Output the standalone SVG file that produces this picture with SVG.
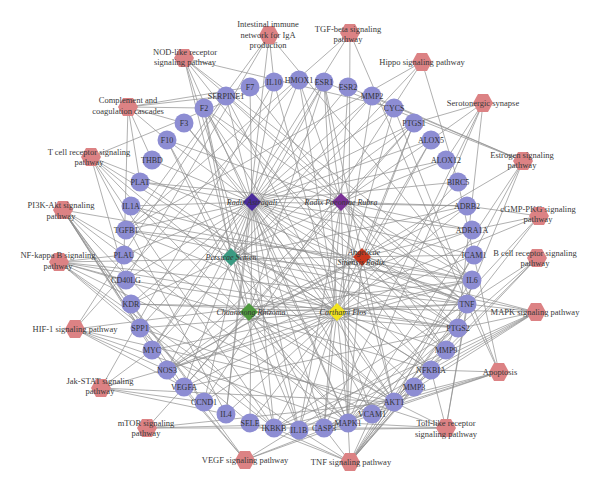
<svg xmlns="http://www.w3.org/2000/svg" width="600" height="492" viewBox="0 0 600 492">
<style>
.e path{stroke:#8e8e8e;stroke-width:0.7;fill:none}
.gene circle{fill:#8d8dd3}
.gene text{font-family:"Liberation Serif",serif;font-size:8px;fill:#333;text-anchor:middle}
.pw use{fill:#dc8284}
.pw text{font-family:"Liberation Serif",serif;font-size:8.5px;fill:#3a3a3a;text-anchor:middle}
.herb text{font-family:"Liberation Serif",serif;font-style:italic;font-size:8px;fill:#333;text-anchor:middle}
</style>
<defs>
<polygon id="hex" points="-10,0 -5,-9 5,-9 10,0 5,9 -5,9"/>
<polygon id="dia" points="0,-9 9,0 0,9 -9,0"/>
</defs>
<rect width="600" height="492" fill="#fff"/>
<g id="connectors" class="e">
<path d="M252 202L299 80"/><path d="M252 202L324 82"/><path d="M252 202L348 87"/><path d="M252 202L372 96"/><path d="M252 202L394 108"/><path d="M252 202L414 123"/><path d="M252 202L431 140"/><path d="M252 202L446 160"/><path d="M252 202L458 182"/><path d="M252 202L467 206"/><path d="M252 202L472 230"/><path d="M252 202L474 255"/><path d="M252 202L472 280"/><path d="M252 202L467 304"/><path d="M252 202L458 328"/><path d="M252 202L446 350"/><path d="M252 202L431 370"/><path d="M252 202L394 402"/><path d="M252 202L372 414"/><path d="M252 202L348 423"/><path d="M252 202L324 428"/><path d="M252 202L299 430"/><path d="M252 202L274 428"/><path d="M252 202L250 423"/><path d="M252 202L226 414"/><path d="M252 202L204 402"/><path d="M252 202L184 387"/><path d="M252 202L167 370"/><path d="M252 202L152 350"/><path d="M252 202L140 328"/><path d="M252 202L131 304"/><path d="M252 202L126 280"/><path d="M252 202L124 255"/><path d="M252 202L126 230"/><path d="M252 202L131 206"/><path d="M252 202L140 182"/><path d="M252 202L152 160"/><path d="M252 202L167 140"/><path d="M252 202L184 123"/><path d="M252 202L204 108"/><path d="M252 202L226 96"/><path d="M252 202L250 87"/><path d="M252 202L274 82"/>
<path d="M337 312L299 80"/><path d="M337 312L324 82"/><path d="M337 312L372 96"/><path d="M337 312L394 108"/><path d="M337 312L414 123"/><path d="M337 312L431 140"/><path d="M337 312L458 182"/><path d="M337 312L467 206"/><path d="M337 312L474 255"/><path d="M337 312L472 280"/><path d="M337 312L467 304"/><path d="M337 312L458 328"/><path d="M337 312L446 350"/><path d="M337 312L431 370"/><path d="M337 312L414 387"/><path d="M337 312L394 402"/><path d="M337 312L372 414"/><path d="M337 312L348 423"/><path d="M337 312L324 428"/><path d="M337 312L299 430"/><path d="M337 312L274 428"/><path d="M337 312L250 423"/><path d="M337 312L226 414"/><path d="M337 312L204 402"/><path d="M337 312L184 387"/><path d="M337 312L167 370"/><path d="M337 312L152 350"/><path d="M337 312L140 328"/><path d="M337 312L131 304"/><path d="M337 312L126 280"/><path d="M337 312L126 230"/><path d="M337 312L131 206"/><path d="M337 312L140 182"/><path d="M337 312L184 123"/><path d="M337 312L204 108"/><path d="M337 312L226 96"/><path d="M337 312L274 82"/>
<path d="M341 202L299 80"/><path d="M341 202L324 82"/><path d="M341 202L348 87"/><path d="M341 202L414 123"/><path d="M341 202L431 140"/><path d="M341 202L446 160"/><path d="M341 202L467 206"/><path d="M341 202L472 230"/><path d="M341 202L472 280"/><path d="M341 202L467 304"/><path d="M341 202L458 328"/><path d="M341 202L446 350"/><path d="M341 202L394 402"/><path d="M341 202L348 423"/><path d="M341 202L324 428"/><path d="M341 202L299 430"/><path d="M341 202L184 387"/><path d="M341 202L167 370"/><path d="M341 202L131 304"/><path d="M341 202L204 108"/><path d="M341 202L167 140"/><path d="M341 202L250 87"/><path d="M341 202L226 96"/><path d="M341 202L140 182"/>
<path d="M362 257L324 82"/><path d="M362 257L414 123"/><path d="M362 257L458 328"/><path d="M362 257L431 140"/><path d="M362 257L472 230"/><path d="M362 257L472 280"/><path d="M362 257L467 304"/><path d="M362 257L394 402"/><path d="M362 257L348 423"/><path d="M362 257L167 370"/><path d="M362 257L204 108"/><path d="M362 257L126 230"/><path d="M362 257L446 350"/>
<path d="M231 257L414 123"/><path d="M231 257L458 328"/><path d="M231 257L324 82"/><path d="M231 257L467 206"/><path d="M231 257L472 280"/><path d="M231 257L467 304"/><path d="M231 257L324 428"/><path d="M231 257L394 402"/><path d="M231 257L204 108"/><path d="M231 257L167 140"/><path d="M231 257L372 96"/>
<path d="M249 312L414 123"/><path d="M249 312L458 328"/><path d="M249 312L467 206"/><path d="M249 312L472 230"/><path d="M249 312L324 82"/><path d="M249 312L394 402"/><path d="M249 312L348 423"/><path d="M249 312L299 430"/><path d="M249 312L467 304"/><path d="M249 312L204 108"/><path d="M249 312L167 140"/><path d="M249 312L167 370"/><path d="M249 312L184 387"/>
<path d="M269 35L274 82"/><path d="M269 35L226 414"/><path d="M269 35L126 280"/><path d="M269 35L126 230"/><path d="M269 35L472 280"/>
<path d="M350 33L126 230"/><path d="M350 33L152 350"/><path d="M350 33L467 304"/><path d="M350 33L348 423"/>
<path d="M422 62L126 230"/><path d="M422 62L204 402"/><path d="M422 62L152 350"/><path d="M422 62L458 182"/>
<path d="M483 103L414 123"/><path d="M483 103L458 328"/><path d="M483 103L431 140"/><path d="M483 103L446 160"/><path d="M483 103L348 423"/><path d="M483 103L324 428"/>
<path d="M184 58L299 430"/><path d="M184 58L472 280"/><path d="M184 58L467 304"/><path d="M184 58L431 370"/><path d="M184 58L274 428"/><path d="M184 58L348 423"/><path d="M184 58L394 108"/>
<path d="M128 107L204 108"/><path d="M128 107L184 123"/><path d="M128 107L250 87"/><path d="M128 107L167 140"/><path d="M128 107L226 96"/><path d="M128 107L140 182"/><path d="M128 107L124 255"/><path d="M128 107L152 160"/>
<path d="M91 157L274 82"/><path d="M91 157L226 414"/><path d="M91 157L467 304"/><path d="M91 157L126 280"/><path d="M91 157L394 402"/><path d="M91 157L274 428"/><path d="M91 157L431 370"/><path d="M91 157L348 423"/>
<path d="M63 210L394 402"/><path d="M63 210L472 280"/><path d="M63 210L184 387"/><path d="M63 210L131 304"/><path d="M63 210L204 402"/><path d="M63 210L152 350"/><path d="M63 210L140 328"/><path d="M63 210L274 428"/><path d="M63 210L348 423"/><path d="M63 210L167 370"/>
<path d="M59 262L467 304"/><path d="M59 262L299 430"/><path d="M59 262L274 428"/><path d="M59 262L431 370"/><path d="M59 262L372 414"/><path d="M59 262L474 255"/><path d="M59 262L250 423"/><path d="M59 262L458 328"/><path d="M59 262L126 280"/><path d="M59 262L124 255"/>
<path d="M75 329L184 387"/><path d="M75 329L299 80"/><path d="M75 329L167 370"/><path d="M75 329L226 96"/><path d="M75 329L394 402"/><path d="M75 329L348 423"/><path d="M75 329L472 280"/>
<path d="M101 388L274 82"/><path d="M101 388L226 414"/><path d="M101 388L472 280"/><path d="M101 388L204 402"/><path d="M101 388L152 350"/><path d="M101 388L394 402"/>
<path d="M147 428L394 402"/><path d="M147 428L184 387"/><path d="M147 428L274 428"/><path d="M147 428L348 423"/>
<path d="M245 460L184 387"/><path d="M245 460L131 304"/><path d="M245 460L167 370"/><path d="M245 460L458 328"/><path d="M245 460L348 423"/><path d="M245 460L394 402"/>
<path d="M350 462L467 304"/><path d="M350 462L472 280"/><path d="M350 462L299 430"/><path d="M350 462L458 328"/><path d="M350 462L414 387"/><path d="M350 462L446 350"/><path d="M350 462L372 414"/><path d="M350 462L474 255"/><path d="M350 462L250 423"/><path d="M350 462L431 370"/><path d="M350 462L274 428"/><path d="M350 462L394 402"/><path d="M350 462L348 423"/><path d="M350 462L324 428"/>
<path d="M446 428L467 304"/><path d="M446 428L472 280"/><path d="M446 428L299 430"/><path d="M446 428L431 370"/><path d="M446 428L274 428"/><path d="M446 428L348 423"/><path d="M446 428L394 402"/><path d="M446 428L140 328"/>
<path d="M499 372L324 428"/><path d="M499 372L394 108"/><path d="M499 372L458 182"/><path d="M499 372L394 402"/><path d="M499 372L467 304"/><path d="M499 372L431 370"/><path d="M499 372L274 428"/><path d="M499 372L348 423"/>
<path d="M536 312L467 304"/><path d="M536 312L131 206"/><path d="M536 312L299 430"/><path d="M536 312L126 230"/><path d="M536 312L348 423"/><path d="M536 312L394 402"/><path d="M536 312L184 387"/><path d="M536 312L131 304"/><path d="M536 312L324 428"/><path d="M536 312L274 428"/>
<path d="M537 258L274 428"/><path d="M537 258L431 370"/><path d="M537 258L394 402"/><path d="M537 258L348 423"/>
<path d="M539 216L467 206"/><path d="M539 216L472 230"/><path d="M539 216L167 370"/><path d="M539 216L348 423"/><path d="M539 216L394 402"/>
<path d="M523 161L324 82"/><path d="M523 161L348 87"/><path d="M523 161L372 96"/><path d="M523 161L446 350"/><path d="M523 161L394 402"/><path d="M523 161L348 423"/><path d="M523 161L167 370"/>
</g>
<g id="pathways">
<g id="p-iga" class="pw"><use href="#hex" transform="translate(269,35)"/><text x="268" y="27">Intestinal immune</text><text x="268" y="38">network for IgA</text><text x="268" y="48">production</text></g>
<g id="p-tgfb" class="pw"><use href="#hex" transform="translate(350,33)"/><text x="348" y="32">TGF-beta signaling</text><text x="348" y="42">pathway</text></g>
<g id="p-hippo" class="pw"><use href="#hex" transform="translate(422,62)"/><text x="422" y="65">Hippo signaling pathway</text></g>
<g id="p-sero" class="pw"><use href="#hex" transform="translate(483,103)"/><text x="483" y="106">Serotonergic synapse</text></g>
<g id="p-nod" class="pw"><use href="#hex" transform="translate(184,58)"/><text x="185" y="55">NOD-like receptor</text><text x="185" y="65">signaling pathway</text></g>
<g id="p-compl" class="pw"><use href="#hex" transform="translate(128,107)"/><text x="128" y="103">Complement and</text><text x="128" y="114">coagulation cascades</text></g>
<g id="p-tcr" class="pw"><use href="#hex" transform="translate(91,157)"/><text x="89" y="155">T cell receptor signaling</text><text x="89" y="165">pathway</text></g>
<g id="p-pi3k" class="pw"><use href="#hex" transform="translate(63,210)"/><text x="61" y="208">PI3K-Akt signaling</text><text x="61" y="219">pathway</text></g>
<g id="p-nfkb" class="pw"><use href="#hex" transform="translate(59,262)"/><text x="58" y="258">NF-kappa B signaling</text><text x="58" y="269">pathway</text></g>
<g id="p-hif" class="pw"><use href="#hex" transform="translate(75,329)"/><text x="75" y="332">HIF-1 signaling pathway</text></g>
<g id="p-jak" class="pw"><use href="#hex" transform="translate(101,388)"/><text x="100" y="384">Jak-STAT signaling</text><text x="100" y="394">pathway</text></g>
<g id="p-mtor" class="pw"><use href="#hex" transform="translate(147,428)"/><text x="146" y="426">mTOR signaling</text><text x="146" y="436">pathway</text></g>
<g id="p-vegf" class="pw"><use href="#hex" transform="translate(245,460)"/><text x="245" y="463">VEGF signaling pathway</text></g>
<g id="p-tnf" class="pw"><use href="#hex" transform="translate(350,462)"/><text x="351" y="465">TNF signaling pathway</text></g>
<g id="p-toll" class="pw"><use href="#hex" transform="translate(446,428)"/><text x="446" y="426">Toll-like receptor</text><text x="446" y="437">signaling pathway</text></g>
<g id="p-apop" class="pw"><use href="#hex" transform="translate(499,372)"/><text x="500" y="375">Apoptosis</text></g>
<g id="p-mapk" class="pw"><use href="#hex" transform="translate(536,312)"/><text x="535" y="315">MAPK signaling pathway</text></g>
<g id="p-bcr" class="pw"><use href="#hex" transform="translate(537,258)"/><text x="535" y="256">B cell receptor signaling</text><text x="535" y="266">pathway</text></g>
<g id="p-cgmp" class="pw"><use href="#hex" transform="translate(539,216)"/><text x="538" y="212">cGMP-PKG signaling</text><text x="538" y="222">pathway</text></g>
<g id="p-estr" class="pw"><use href="#hex" transform="translate(523,161)"/><text x="522" y="158">Estrogen signaling</text><text x="522" y="168">pathway</text></g>
</g>
<g id="genes">
<g id="g-HMOX1" class="gene"><circle cx="299" cy="80" r="9.5"/><text x="299" y="83">HMOX1</text></g>
<g id="g-ESR1" class="gene"><circle cx="324" cy="82" r="9.5"/><text x="324" y="85">ESR1</text></g>
<g id="g-ESR2" class="gene"><circle cx="348" cy="87" r="9.5"/><text x="348" y="90">ESR2</text></g>
<g id="g-MMP2" class="gene"><circle cx="372" cy="96" r="9.5"/><text x="372" y="99">MMP2</text></g>
<g id="g-CYCS" class="gene"><circle cx="394" cy="108" r="9.5"/><text x="394" y="111">CYCS</text></g>
<g id="g-PTGS1" class="gene"><circle cx="414" cy="123" r="9.5"/><text x="414" y="126">PTGS1</text></g>
<g id="g-ALOX5" class="gene"><circle cx="431" cy="140" r="9.5"/><text x="431" y="143">ALOX5</text></g>
<g id="g-ALOX12" class="gene"><circle cx="446" cy="160" r="9.5"/><text x="446" y="163">ALOX12</text></g>
<g id="g-BIRC5" class="gene"><circle cx="458" cy="182" r="9.5"/><text x="458" y="185">BIRC5</text></g>
<g id="g-ADRB2" class="gene"><circle cx="467" cy="206" r="9.5"/><text x="467" y="209">ADRB2</text></g>
<g id="g-ADRA1A" class="gene"><circle cx="472" cy="230" r="9.5"/><text x="472" y="233">ADRA1A</text></g>
<g id="g-ICAM1" class="gene"><circle cx="474" cy="255" r="9.5"/><text x="474" y="258">ICAM1</text></g>
<g id="g-IL6" class="gene"><circle cx="472" cy="280" r="9.5"/><text x="472" y="283">IL6</text></g>
<g id="g-TNF" class="gene"><circle cx="467" cy="304" r="9.5"/><text x="467" y="307">TNF</text></g>
<g id="g-PTGS2" class="gene"><circle cx="458" cy="328" r="9.5"/><text x="458" y="331">PTGS2</text></g>
<g id="g-MMP9" class="gene"><circle cx="446" cy="350" r="9.5"/><text x="446" y="353">MMP9</text></g>
<g id="g-NFKBIA" class="gene"><circle cx="431" cy="370" r="9.5"/><text x="431" y="373">NFKBIA</text></g>
<g id="g-MMP3" class="gene"><circle cx="414" cy="387" r="9.5"/><text x="414" y="390">MMP3</text></g>
<g id="g-AKT1" class="gene"><circle cx="394" cy="402" r="9.5"/><text x="394" y="405">AKT1</text></g>
<g id="g-VCAM1" class="gene"><circle cx="372" cy="414" r="9.5"/><text x="372" y="417">VCAM1</text></g>
<g id="g-MAPK1" class="gene"><circle cx="348" cy="423" r="9.5"/><text x="348" y="426">MAPK1</text></g>
<g id="g-CASP3" class="gene"><circle cx="324" cy="428" r="9.5"/><text x="324" y="431">CASP3</text></g>
<g id="g-IL1B" class="gene"><circle cx="299" cy="430" r="9.5"/><text x="299" y="433">IL1B</text></g>
<g id="g-IKBKB" class="gene"><circle cx="274" cy="428" r="9.5"/><text x="274" y="431">IKBKB</text></g>
<g id="g-SELE" class="gene"><circle cx="250" cy="423" r="9.5"/><text x="250" y="426">SELE</text></g>
<g id="g-IL4" class="gene"><circle cx="226" cy="414" r="9.5"/><text x="226" y="417">IL4</text></g>
<g id="g-CCND1" class="gene"><circle cx="204" cy="402" r="9.5"/><text x="204" y="405">CCND1</text></g>
<g id="g-VEGFA" class="gene"><circle cx="184" cy="387" r="9.5"/><text x="184" y="390">VEGFA</text></g>
<g id="g-NOS3" class="gene"><circle cx="167" cy="370" r="9.5"/><text x="167" y="373">NOS3</text></g>
<g id="g-MYC" class="gene"><circle cx="152" cy="350" r="9.5"/><text x="152" y="353">MYC</text></g>
<g id="g-SPP1" class="gene"><circle cx="140" cy="328" r="9.5"/><text x="140" y="331">SPP1</text></g>
<g id="g-KDR" class="gene"><circle cx="131" cy="304" r="9.5"/><text x="131" y="307">KDR</text></g>
<g id="g-CD40LG" class="gene"><circle cx="126" cy="280" r="9.5"/><text x="126" y="283">CD40LG</text></g>
<g id="g-PLAU" class="gene"><circle cx="124" cy="255" r="9.5"/><text x="124" y="258">PLAU</text></g>
<g id="g-TGFB1" class="gene"><circle cx="126" cy="230" r="9.5"/><text x="126" y="233">TGFB1</text></g>
<g id="g-IL1A" class="gene"><circle cx="131" cy="206" r="9.5"/><text x="131" y="209">IL1A</text></g>
<g id="g-PLAT" class="gene"><circle cx="140" cy="182" r="9.5"/><text x="140" y="185">PLAT</text></g>
<g id="g-THBD" class="gene"><circle cx="152" cy="160" r="9.5"/><text x="152" y="163">THBD</text></g>
<g id="g-F10" class="gene"><circle cx="167" cy="140" r="9.5"/><text x="167" y="143">F10</text></g>
<g id="g-F3" class="gene"><circle cx="184" cy="123" r="9.5"/><text x="184" y="126">F3</text></g>
<g id="g-F2" class="gene"><circle cx="204" cy="108" r="9.5"/><text x="204" y="111">F2</text></g>
<g id="g-SERPINE1" class="gene"><circle cx="226" cy="96" r="9.5"/><text x="226" y="99">SERPINE1</text></g>
<g id="g-F7" class="gene"><circle cx="250" cy="87" r="9.5"/><text x="250" y="90">F7</text></g>
<g id="g-IL10" class="gene"><circle cx="274" cy="82" r="9.5"/><text x="274" y="85">IL10</text></g>
</g>
<g id="herbs">
<g id="h-astragali" class="herb"><use href="#dia" transform="translate(252,202)" fill="#4a2c9c"/><text x="252" y="205">Radix Astragali</text></g>
<g id="h-paeoniae" class="herb"><use href="#dia" transform="translate(341,202)" fill="#7a3296"/><text x="341" y="205">Radix Paeoniae Rubra</text></g>
<g id="h-persicae" class="herb"><use href="#dia" transform="translate(231,257)" fill="#3a9a82"/><text x="231" y="260">Persicae Semen</text></g>
<g id="h-angelicae" class="herb"><use href="#dia" transform="translate(362,257)" fill="#c8381e"/><text x="364" y="255">Angelicae</text><text x="361" y="265">Sinensis Radix</text></g>
<g id="h-chuanxiong" class="herb"><use href="#dia" transform="translate(249,312)" fill="#4e9a3e"/><text x="251" y="315">Chuanxiong Rhizoma</text></g>
<g id="h-carthami" class="herb"><use href="#dia" transform="translate(337,312)" fill="#f2e41e"/><text x="343" y="315">Carthami Flos</text></g>
</g>
</svg>
